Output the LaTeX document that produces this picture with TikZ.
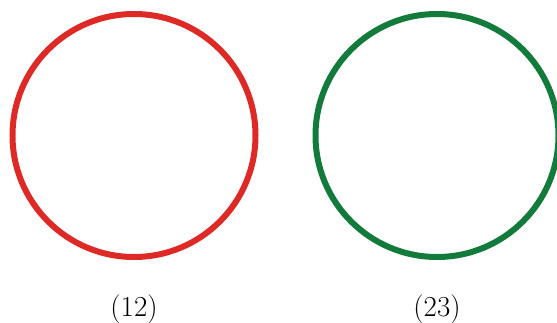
\documentclass[tikz,border=0pt]{standalone}
\usepackage{amsmath, amssymb}
\usepackage{xcolor}
\usepackage{tikz}
\usetikzlibrary{arrows.meta, positioning, calc}

\definecolor{ringred}{RGB}{222,42,38}
\definecolor{ringgreen}{RGB}{18,122,58}

\begin{document}
\begin{tikzpicture}[
    x=1pt, y=1pt,
    ring/.style={circle, draw, line width=6pt, minimum size=243pt, inner sep=0pt, outer sep=0pt},
    lbl/.style={font=\fontsize{29}{34}\selectfont, inner sep=0pt, anchor=base}
  ]
  \useasboundingbox (0,0) rectangle (557,322);
  \node[ring, draw=ringred] (P) at (134,186.5) {};
  \node[ring, draw=ringgreen] (Q) at (437,186.5) {};
  \node[lbl, below=59.5pt of P, anchor=base] (Plbl) {(12)};
  \node[lbl, below=59.5pt of Q, anchor=base] (Qlbl) {(23)};
\end{tikzpicture}
\end{document}
